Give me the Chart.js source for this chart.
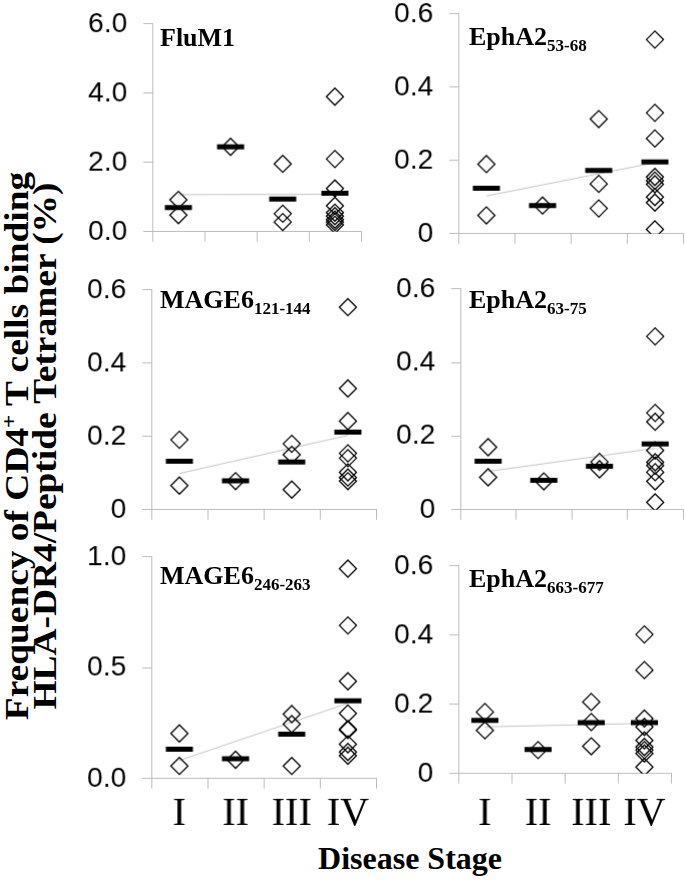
<!DOCTYPE html>
<html>
<head>
<meta charset="utf-8">
<script src="https://cdn.jsdelivr.net/npm/chart.js@4.4.0/dist/chart.umd.min.js"></script>
<style>
  body { margin: 0; background: #fff; }
  #wrap { position: relative; width: 686px; height: 895px; overflow: hidden; }
  #wrap canvas { position: absolute; }
  .ptitle {
    position: absolute;
    font-family: "Liberation Serif", "Times New Roman", serif;
    font-weight: bold;
    font-size: 26px;
    line-height: 26px;
    white-space: nowrap;
    color: #000;
  }
  .ptitle sub { font-size: 17px; line-height: 0; vertical-align: -6px; }
  #ytitle {
    position: absolute;
    width: 700px;
    left: -319px;
    top: 418px;
    transform: rotate(-90deg) scale(1.1, 1);
    font-family: "Liberation Serif", "Times New Roman", serif;
    font-weight: bold;
    font-size: 34px;
    line-height: 28px;
    text-align: center;
    white-space: nowrap;
  }
  #ytitle sup { font-size: 21px; line-height: 0; vertical-align: 12px; }
  #xtitle {
    position: absolute;
    left: 260px;
    width: 300px;
    top: 840px;
    font-family: "Liberation Serif", "Times New Roman", serif;
    font-weight: bold;
    font-size: 32px;
    text-align: center;
  }
</style>
</head>
<body>
<div id="wrap">
  <div id="ytitle">Frequency of CD4<sup>+</sup> T cells binding<br>HLA-DR4/Peptide Tetramer (%)</div>
  <div id="xtitle">Disease Stage</div>
</div>
<script>
const stages = ["I", "II", "III", "IV"];

// patient values per stage: [I], [II], [III], [IV]
const fluM1 = [[0.92, 0.48], [2.45], [1.96, 0.52, 0.28], [3.9, 2.1, 1.25, 0.75, 0.55, 0.45, 0.35, 0.28, 0.2]];
const fluM1Mean = [0.7, 2.45, 0.94, 1.11];
const fluM1Trend = [1.07, 1.08];

const ephA2_53 = [[0.19, 0.05], [0.077], [0.313, 0.136, 0.069], [0.53, 0.33, 0.26, 0.155, 0.145, 0.135, 0.1, 0.085, 0.012]];
const ephA2_53Mean = [0.124, 0.077, 0.173, 0.196];
const ephA2_53Trend = [0.103, 0.194];

const mage6_121 = [[0.191, 0.066], [0.078], [0.18, 0.15, 0.055], [0.553, 0.331, 0.242, 0.154, 0.141, 0.102, 0.088, 0.078]];
const mage6_121Mean = [0.132, 0.079, 0.13, 0.212];
const mage6_121Trend = [0.099, 0.203];

const ephA2_63 = [[0.17, 0.088], [0.077], [0.13, 0.11], [0.471, 0.263, 0.239, 0.161, 0.129, 0.12, 0.102, 0.077, 0.02]];
const ephA2_63Mean = [0.132, 0.08, 0.118, 0.179];
const ephA2_63Trend = [0.104, 0.167];

const mage6_246 = [[0.204, 0.057], [0.085], [0.291, 0.246, 0.057], [0.947, 0.691, 0.439, 0.294, 0.223, 0.219, 0.155, 0.12, 0.103]];
const mage6_246Mean = [0.133, 0.09, 0.2, 0.351];
const mage6_246Trend = [0.082, 0.34];

const ephA2_663 = [[0.178, 0.125], [0.068], [0.207, 0.149, 0.079], [0.402, 0.299, 0.159, 0.135, 0.096, 0.077, 0.068, 0.058, 0.019]];
const ephA2_663Mean = [0.154, 0.07, 0.147, 0.147];
const ephA2_663Trend = [0.135, 0.145];

const panels = [
  { name: "FluM1", sub: "", values: fluM1, means: fluM1Mean, trend: fluM1Trend, max: 6, step: 2, zeroDec: true,
    area: [152, 24, 360, 231], titleAt: [160, 47], bottom: false },
  { name: "EphA2", sub: "53-68", values: ephA2_53, means: ephA2_53Mean, trend: ephA2_53Trend, max: 0.6, step: 0.2, zeroDec: false,
    area: [458, 14, 682, 233], titleAt: [469, 46], bottom: false },
  { name: "MAGE6", sub: "121-144", values: mage6_121, means: mage6_121Mean, trend: mage6_121Trend, max: 0.6, step: 0.2, zeroDec: false,
    area: [151, 290, 375, 509], titleAt: [160, 309], bottom: false },
  { name: "EphA2", sub: "63-75", values: ephA2_63, means: ephA2_63Mean, trend: ephA2_63Trend, max: 0.6, step: 0.2, zeroDec: false,
    area: [460, 289, 682, 509], titleAt: [469, 309], bottom: false },
  { name: "MAGE6", sub: "246-263", values: mage6_246, means: mage6_246Mean, trend: mage6_246Trend, max: 1.0, step: 0.5, zeroDec: true,
    area: [151, 557, 375, 778], titleAt: [160, 585], bottom: true },
  { name: "EphA2", sub: "663-677", values: ephA2_663, means: ephA2_663Mean, trend: ephA2_663Trend, max: 0.6, step: 0.2, zeroDec: false,
    area: [458, 566, 670, 773], titleAt: [469, 588], bottom: true }
];

const wrap = document.getElementById("wrap");
const axisGray = "#bdbdbd";
const Y_W = 100, PAD_T = 22, PAD_R = 10;

panels.forEach((p) => {
  const [L, T, R, B] = p.area;
  const xh = p.bottom ? 70 : 14;
  const canvas = document.createElement("canvas");
  canvas.width = Y_W + (R - L) + PAD_R;
  canvas.height = PAD_T + (B - T) + xh;
  canvas.style.left = (L - Y_W) + "px";
  canvas.style.top = (T - PAD_T) + "px";
  wrap.appendChild(canvas);

  const title = document.createElement("div");
  title.className = "ptitle";
  title.style.left = p.titleAt[0] + "px";
  title.style.top = (p.titleAt[1] - 22) + "px";
  title.innerHTML = p.name + (p.sub ? "<sub>" + p.sub + "</sub>" : "");
  wrap.appendChild(title);

  const points = p.values.flatMap((arr, i) => arr.map((v) => ({ x: stages[i], y: v })));

  const chart = new Chart(canvas, {
    type: "line",
    data: {
      labels: stages,
      datasets: [
        {
          label: "mean",
          data: p.means.map((v, i) => ({ x: stages[i], y: v })),
          showLine: false,
          pointStyle: "line",
          pointRadius: 13.5,
          pointBorderWidth: 5,
          borderColor: "#000",
          order: 0,
        },
        {
          label: "patients",
          data: points,
          showLine: false,
          pointStyle: "rectRot",
          pointRadius: 8.5,
          pointBorderWidth: 1.3,
          borderColor: "#000",
          pointBackgroundColor: "rgba(0,0,0,0)",
          order: 1,
        },
        {
          label: "trend",
          data: [{ x: stages[0], y: p.trend[0] }, { x: stages[3], y: p.trend[1] }],
          borderColor: "#c4c4c4",
          borderWidth: 1,
          pointRadius: 0,
          order: 2,
        },
      ],
    },
    options: {
      responsive: false,
      maintainAspectRatio: false,
      animation: false,
      layout: { padding: { top: PAD_T, right: PAD_R, left: 0, bottom: 0 } },
      plugins: { legend: { display: false }, tooltip: { enabled: false } },
      scales: {
        x: {
          type: "category",
          offset: true,
          grid: { offset: true, drawOnChartArea: false, tickLength: 10, color: axisGray },
          border: { color: axisGray },
          ticks: {
            display: p.bottom,
            color: "#000",
            padding: p.bottom ? (R === 670 ? 7 : 2) : 0,
            font: { family: "'Liberation Serif', 'Times New Roman', serif", size: 40 },
          },
          afterFit: (s) => { s.height = xh; },
        },
        y: {
          min: 0,
          max: p.max,
          grid: { drawOnChartArea: false, tickLength: 9, color: axisGray },
          border: { color: axisGray },
          ticks: {
            stepSize: p.step,
            color: "#000",
            padding: 16,
            font: { family: "'Liberation Sans', Arial, sans-serif", size: 28 },
            callback: (v) => (v === 0 && !p.zeroDec ? "0" : Number(v).toFixed(1)),
          },
          afterFit: (s) => { s.width = Y_W; },
        },
      },
    },
  });

  // the layout adds room for the end labels; measure it and fit the canvas so the plot area lands where wanted
  const ca = chart.chartArea;
  const mL = ca.left, mT = ca.top;
  const mR = canvas.width - ca.right, mB = canvas.height - ca.bottom;
  canvas.style.left = (L - mL) + "px";
  canvas.style.top = (T - mT) + "px";
  chart.resize(mL + (R - L) + mR, mT + (B - T) + mB);
});
</script>
</body>
</html>
